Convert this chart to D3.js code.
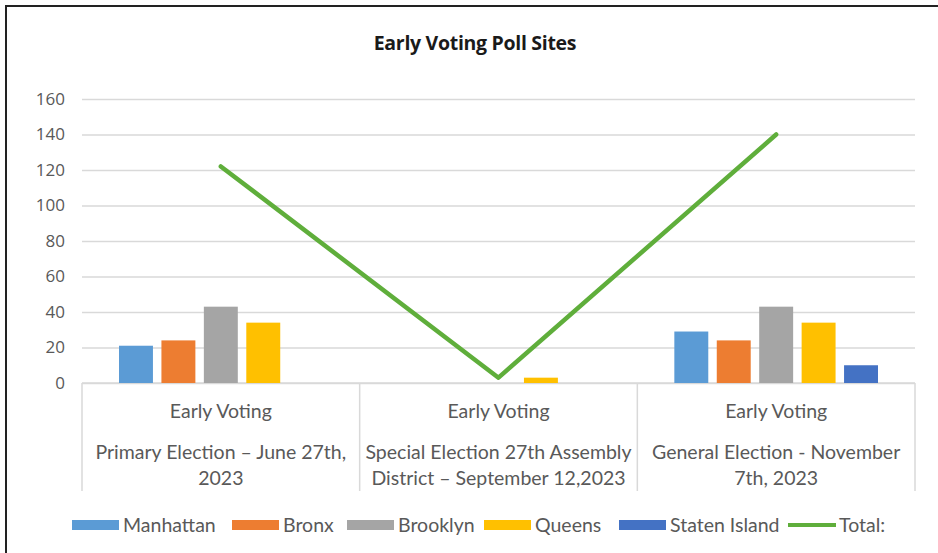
<!DOCTYPE html>
<html>
<head>
<meta charset="utf-8">
<script src="https://cdn.jsdelivr.net/npm/d3@7"></script>
<style>
  html, body { margin: 0; padding: 0; background: #fff; }
  svg { display: block; }
  text { font-family: Lato, "Open Sans", sans-serif; }
</style>
</head>
<body>
<svg id="chart" width="938" height="553"></svg>
<script>
// ---- data ----
const categories = ["Primary", "Special", "General"];
const categoryTop = ["Early Voting", "Early Voting", "Early Voting"];
const categoryLines = [
  ["Primary Election \u2013 June 27th,", "2023"],
  ["Special Election 27th Assembly", "District \u2013 September 12,2023"],
  ["General Election - November", "7th, 2023"]
];
const seriesNames = ["Manhattan", "Bronx", "Brooklyn", "Queens", "Staten Island"];
const manhattan = [21, 0, 29];
const bronx = [24, 0, 24];
const brooklyn = [43, 0, 43];
const queens = [34, 3, 34];
const statenIsland = [0, 0, 10];
const total = [122, 3, 140];
const yTicks = [0, 20, 40, 60, 80, 100, 120, 140, 160];
const seriesColors = ["#5b9bd5", "#ed7d31", "#a5a5a5", "#ffc000", "#4472c4"];
const totalColor = "#5fae3b";

const seriesValues = [manhattan, bronx, brooklyn, queens, statenIsland];

// ---- layout ----
const svg = d3.select("#chart");
const plotL = 82, plotR = 915, plotT = 99, plotB = 383;

const x0 = d3.scaleBand().domain(categories).range([plotL, plotR]).paddingInner(0).paddingOuter(0);
const x1 = d3.scaleBand().domain(seriesNames)
  .range([37, x0.bandwidth() - 37]).paddingInner(0.2).paddingOuter(0);
const y = d3.scaleLinear().domain([0, 160]).range([plotB, plotT]);

// frame (top + left)
svg.append("line").attr("x1", 5).attr("x2", 938).attr("y1", 6).attr("y2", 6)
  .attr("stroke", "#222").attr("stroke-width", 2);
svg.append("line").attr("x1", 6).attr("x2", 6).attr("y1", 5).attr("y2", 553)
  .attr("stroke", "#222").attr("stroke-width", 2);

// title
svg.append("text").attr("x", 475).attr("y", 50).attr("text-anchor", "middle")
  .style("font-family", "'Open Sans', sans-serif")
  .attr("font-size", 19.5).attr("font-weight", "bold").attr("fill", "#1a1a1a")
  .attr("letter-spacing", -0.3)
  .text("Early Voting Poll Sites");

// gridlines + y axis
const yAxis = d3.axisLeft(y).tickValues(yTicks).tickSize(-(plotR - plotL)).tickPadding(17);
const gy = svg.append("g").attr("transform", `translate(${plotL},0)`).call(yAxis);
gy.select(".domain").remove();
gy.selectAll(".tick line").attr("stroke", "#d9d9d9").attr("stroke-width", 1.5);
gy.selectAll(".tick text").attr("fill", "#595959").attr("font-size", 17)
  .style("font-family", "'Open Sans', sans-serif");

// category axis (table-like)
const gx = svg.append("g");
gx.append("line").attr("x1", plotL).attr("x2", plotR).attr("y1", plotB).attr("y2", plotB)
  .attr("stroke", "#d9d9d9").attr("stroke-width", 1.5);
const bounds = categories.map(c => x0(c)).concat([plotR]);
gx.selectAll("line.sep").data(bounds).join("line").attr("class", "sep")
  .attr("x1", d => d).attr("x2", d => d).attr("y1", plotB).attr("y2", 491)
  .attr("stroke", "#d9d9d9").attr("stroke-width", 1.5);
categories.forEach((c, i) => {
  const cx = x0(c) + x0.bandwidth() / 2;
  gx.append("text").attr("x", cx).attr("y", 418).attr("text-anchor", "middle")
    .attr("font-size", 19.5).attr("fill", "#595959").text(categoryTop[i]);
  categoryLines[i].forEach((ln, j) => {
    gx.append("text").attr("x", cx).attr("y", 459 + j * 26).attr("text-anchor", "middle")
      .attr("font-size", 19.5).attr("fill", "#595959").text(ln);
  });
});

// bars
const groups = svg.append("g").selectAll("g").data(categories).join("g")
  .attr("transform", d => `translate(${x0(d)},0)`);
groups.selectAll("rect")
  .data((c, ci) => seriesNames.map((s, si) => ({ s, si, v: seriesValues[si][ci] })))
  .join("rect")
  .attr("x", d => x1(d.s))
  .attr("width", x1.bandwidth())
  .attr("y", d => y(d.v))
  .attr("height", d => y(0) - y(d.v))
  .attr("fill", d => seriesColors[d.si]);

// total line
const line = d3.line()
  .x((d, i) => x0(categories[i]) + x0.bandwidth() / 2)
  .y(d => y(d));
svg.append("path").datum(total).attr("d", line)
  .attr("fill", "none").attr("stroke", totalColor).attr("stroke-width", 4.5)
  .attr("stroke-linejoin", "round").attr("stroke-linecap", "round");

// legend
const legendItems = seriesNames.map((n, i) => ({ n, c: seriesColors[i], type: "bar" }))
  .concat([{ n: "Total:", c: totalColor, type: "line" }]);
const legendX = [72, 232, 347, 484, 619, 788];
const lg = svg.append("g");
legendItems.forEach((d, i) => {
  const gx0 = legendX[i];
  if (d.type === "bar") {
    lg.append("rect").attr("x", gx0).attr("y", 520).attr("width", 47).attr("height", 10).attr("fill", d.c);
  } else {
    lg.append("line").attr("x1", gx0).attr("x2", gx0 + 48).attr("y1", 525).attr("y2", 525)
      .attr("stroke", d.c).attr("stroke-width", 4);
  }
  lg.append("text").attr("x", gx0 + 51).attr("y", 532).attr("font-size", 19.5)
    .attr("fill", "#595959").text(d.n);
});
</script>
</body>
</html>
